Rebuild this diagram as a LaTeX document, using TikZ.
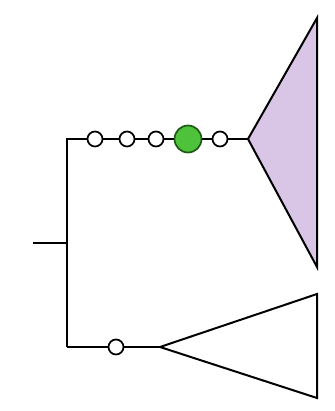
\documentclass[tikz,border=0pt]{standalone}
\definecolor{lilac}{HTML}{D9C5E6}
\definecolor{leaf}{HTML}{4DC23A}
\definecolor{leafdark}{HTML}{1F5A17}
\begin{document}
\begin{tikzpicture}[x=1pt,y=-1pt,line width=2pt,
  tip/.style={circle,draw=black,fill=white,line width=1.7pt,minimum size=15pt,inner sep=0pt},
  bigtip/.style={circle,draw=leafdark,fill=leaf,line width=1.7pt,minimum size=27pt,inner sep=0pt}]
\useasboundingbox (0,0) rectangle (334,411);
\coordinate (root) at (33,243);
\coordinate (stem) at (67,243);
\coordinate (top) at (67,139);
\coordinate (bot) at (67,347);
\coordinate (apexA) at (248,139);
\coordinate (apexB) at (160,347);
\node[tip] (a1) at (95,139) {};
\node[tip] (a2) at (127,139) {};
\node[tip] (a3) at (156,139) {};
\node[bigtip] (a4) at (188,139) {};
\node[tip] (a5) at (220,139) {};
\node[tip] (b1) at (116,347) {};
\draw[fill=lilac,line join=miter] (apexA) -- (317,18) -- (317,267) -- cycle;
\draw[line join=miter] (apexB) -- (317,294) -- (317,398) -- cycle;
\draw (root) -- (stem);
\draw (bot) -- (top) -- (a1);
\draw (a1) -- (a2); \draw (a2) -- (a3); \draw (a3) -- (a4); \draw (a4) -- (a5); \draw (a5) -- (apexA);
\draw (bot) -- (b1); \draw (b1) -- (apexB);
\end{tikzpicture}
\end{document}
